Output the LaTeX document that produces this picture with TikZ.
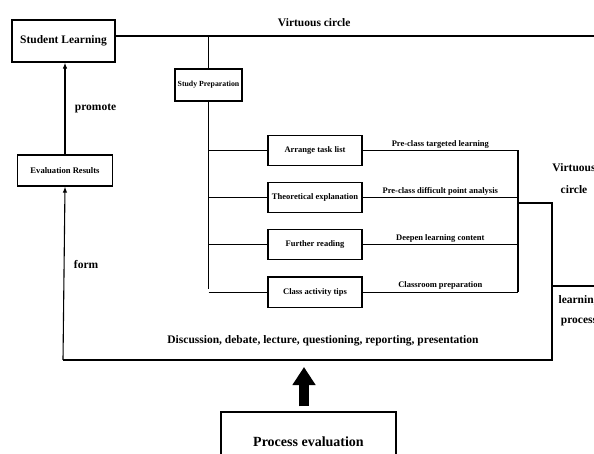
\documentclass[tikz,border=0pt]{standalone}
\usepackage{fontspec}
\setmainfont{Liberation Serif}
\usetikzlibrary{arrows.meta,positioning}
\tikzset{
  box/.style={draw=black, line width=1.2pt, align=center, fill=white, inner sep=2pt,
    font=\bfseries\fontsize{8.5}{10}\selectfont},
  bigbox/.style={box, font=\bfseries\fontsize{11.5}{13}\selectfont},
  taskbox/.style={box, minimum width=94pt, minimum height=30pt},
  lbl/.style={font=\bfseries\fontsize{8.5}{10}\selectfont, inner sep=2pt},
  biglbl/.style={font=\bfseries\fontsize{11.5}{13}\selectfont},
  link/.style={line width=1.1pt},
  arr/.style={-{Latex[length=6pt,width=4.5pt]}, line width=1.1pt},
  bigarr/.style={-{Triangle[length=18pt,width=22pt]}, line width=10pt}
}
\begin{document}
\begin{tikzpicture}[x=1pt, y=-1pt, node distance=16pt and 26pt]
  \useasboundingbox (0,0) rectangle (594,454);
  \clip (0,0) rectangle (594,454);

  % left column
  \node[bigbox, minimum width=103pt, minimum height=42pt] (student) at (63.5,41) {Student Learning};
  \node[box, font=\bfseries\fontsize{8.6}{10}\selectfont, minimum width=95pt, minimum height=31pt] (results) at (65,170.5) {Evaluation Results};

  % study preparation and its tasks
  \node[box, font=\bfseries\fontsize{7.8}{9}\selectfont, minimum width=67pt, minimum height=32pt, inner sep=1pt] (prep) at (208.5,85) {Study Preparation};
  \node[taskbox] (arrange) at (315,150.5) {Arrange task list};
  \node[taskbox, below=of arrange] (theory) {Theoretical explanation};
  \node[taskbox, below=of theory] (reading) {Further reading};
  \node[taskbox, below=of reading] (tips) {Class activity tips};

  \node[bigbox, font=\bfseries\fontsize{14}{16}\selectfont, minimum width=175pt, minimum height=60pt] (process) at (308.5,442) {Process evaluation};

  % helper points of the loop
  \coordinate (join) at (208.5,36);
  \coordinate (edge) at (600,36);
  \coordinate (spine) at (208.5,288.5);
  \coordinate (collect) at (518,0);
  \coordinate (outA) at (518,203);
  \coordinate (outB) at (552,203);
  \coordinate (outC) at (552,360);
  \coordinate (outD) at (600,286);
  \coordinate (base) at (63,360);

  % virtuous circle
  \draw[link] (student.east |- edge) -- node[biglbl, above=5pt, pos=0.41] {Virtuous circle} (edge);
  \draw[link] (join) -- (prep.north);
  \draw[link] (prep.south) -- (spine);
  \foreach \t in {arrange,theory,reading,tips}
    \draw[link] (\t.west -| spine) -- (\t.west);

  \draw[link] (arrange.east) -- node[lbl, above] {Pre-class targeted learning} (arrange.east -| collect);
  \draw[link] (theory.east) -- node[lbl, above] {Pre-class difficult point analysis} (theory.east -| collect);
  \draw[link] (reading.east) -- node[lbl, above] {Deepen learning content} (reading.east -| collect);
  \draw[link] (tips.east) -- node[lbl, above] {Classroom preparation} (tips.east -| collect);
  \draw[link] (arrange.east -| collect) -- (tips.east -| collect);

  \draw[link] (outA) -- (outB) -- (outC) -- (base);
  \draw[link] (outD -| outC) -- (outD);
  \draw[arr] (base) -- node[biglbl, right=6pt, pos=0.55] {form} (results.south);
  \draw[arr] (results.north) -- node[biglbl, right=6pt] {promote} (student.south -| results.north);

  \node[biglbl, align=center, font=\bfseries\fontsize{11.5}{22}\selectfont] (vc) at (574,179) {Virtuous\\circle};
  \node[biglbl, align=center, font=\bfseries\fontsize{11.5}{20}\selectfont] (lp) at (579,311) {learning\\process};
  \node[biglbl] (forms) at (323,341) {Discussion, debate, lecture, questioning, reporting, presentation};

  \draw[bigarr] (process.north -| 304,0) ++(0,-5) -- (304,367);
\end{tikzpicture}
\end{document}
